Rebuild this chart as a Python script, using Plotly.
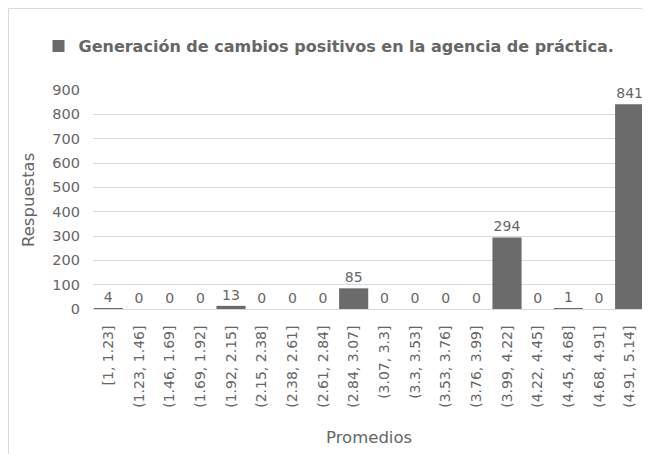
import plotly.graph_objects as go

categories = ["[1, 1.23]", "(1.23, 1.46]", "(1.46, 1.69]", "(1.69, 1.92]", "(1.92, 2.15]",
              "(2.15, 2.38]", "(2.38, 2.61]", "(2.61, 2.84]", "(2.84, 3.07]", "(3.07, 3.3]",
              "(3.3, 3.53]", "(3.53, 3.76]", "(3.76, 3.99]", "(3.99, 4.22]", "(4.22, 4.45]",
              "(4.45, 4.68]", "(4.68, 4.91]", "(4.91, 5.14]"]
values = [4, 0, 0, 0, 13, 0, 0, 0, 85, 0, 0, 0, 0, 294, 0, 1, 0, 841]
series_name = "Generación de cambios positivos en la agencia de práctica."
y_ticks = [0, 100, 200, 300, 400, 500, 600, 700, 800, 900]
x_title = "Promedios"
y_title = "Respuestas"

grey = "#666666"
font_family = "DejaVu Sans, sans-serif"

# page has an 8px body margin; figure is sized/placed to compensate
W, H = 642, 446
ML, MR, MT, MB = 85, 5, 82, 145
PW, PH = W - ML - MR, H - MT - MB

fig = go.Figure()
fig.add_trace(go.Bar(
    x=categories, y=values, name=series_name,
    marker=dict(color="#6b6b6b", line=dict(width=0)),
    text=[str(v) for v in values], textposition="outside",
    textfont=dict(size=14, color=grey, family=font_family),
    cliponaxis=False, showlegend=True,
))

fig.update_layout(
    width=W, height=H,
    margin=dict(l=ML, r=MR, t=MT, b=MB),
    paper_bgcolor="white", plot_bgcolor="white",
    bargap=0.05,
    font=dict(family=font_family, color=grey),
    showlegend=True,
    legend=dict(orientation="h", x=(329 - 8 - ML) / PW, xanchor="center",
                y=1 + (82 - 45 + 8 - 8 + 7) / PH, yanchor="middle",
                font=dict(size=16, color=grey, family=font_family, weight="bold"),
                itemwidth=30, bgcolor="rgba(0,0,0,0)"),
    xaxis=dict(
        tickangle=-90, tickfont=dict(size=14, color=grey),
        showline=True, linecolor="#d9d9d9", linewidth=1,
        showgrid=False, ticks="", ticklabelstandoff=10,
    ),
    yaxis=dict(
        range=[0, 900], tickvals=y_ticks, tickfont=dict(size=14.5, color=grey),
        showgrid=True, gridcolor="#d9d9d9", gridwidth=1,
        zeroline=False, showline=False, ticks="", ticklabelstandoff=12,
    ),
    annotations=[
        dict(text=x_title, xref="paper", yref="paper",
             x=(369 - 8 - ML) / PW, y=-(437 - 8 - (MT + PH)) / PH,
             xanchor="center", yanchor="middle", showarrow=False,
             font=dict(size=16.5, color=grey, family=font_family)),
        dict(text=y_title, xref="paper", yref="paper",
             x=-(ML - (28 - 8)) / PW, y=(MT + PH - (200 - 8)) / PH,
             xanchor="center", yanchor="middle", showarrow=False, textangle=-90,
             font=dict(size=16.5, color=grey, family=font_family)),
    ],
    shapes=[dict(type="rect", xref="paper", yref="paper",
                 x0=-(ML - 0.5) / PW, x1=1.05, y0=-2,
                 y1=(MT + PH - 0.5) / PH,
                 line=dict(color="#d9d9d9", width=1), fillcolor="rgba(0,0,0,0)", layer="below")],
)

fig.write_html("out.html")
